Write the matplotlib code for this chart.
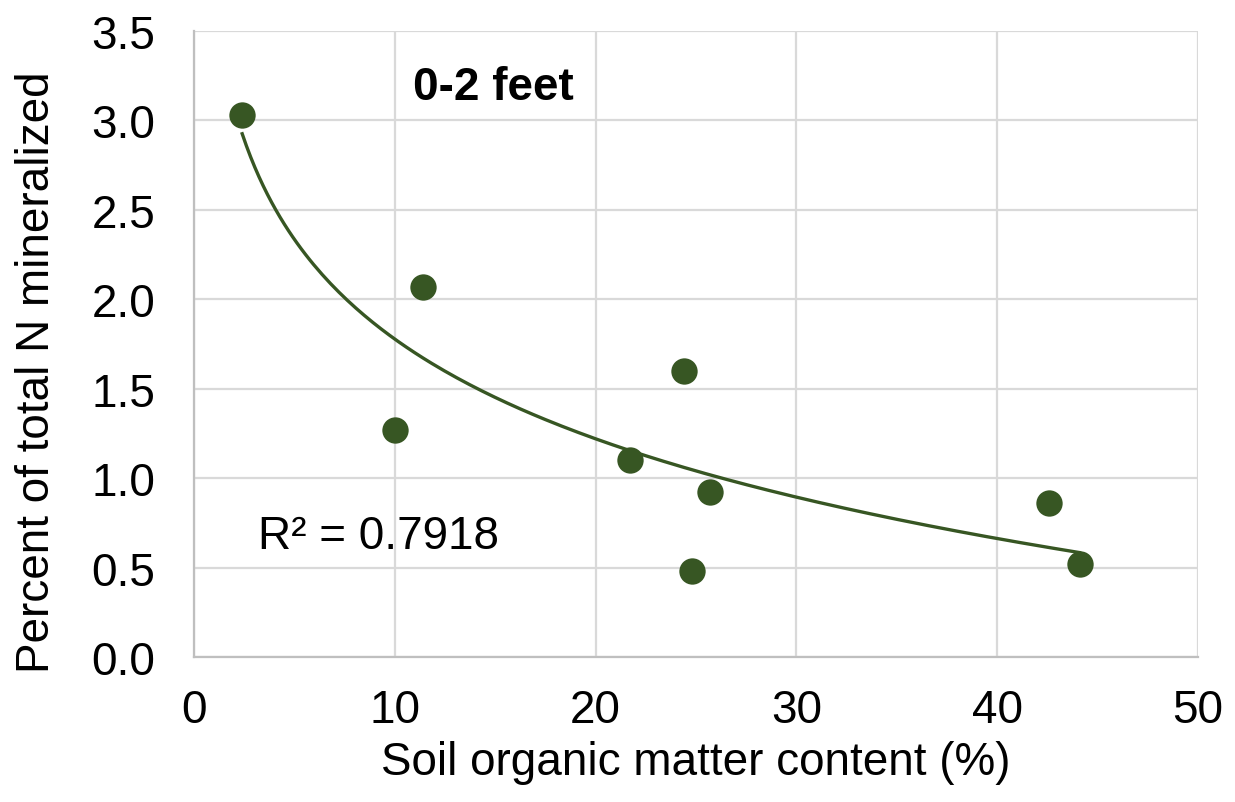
import numpy as np
import matplotlib.pyplot as plt

plt.rcParams['font.family'] = ['Liberation Sans', 'DejaVu Sans']

# soil organic matter (%) and percent of total N mineralized
som = [2.4, 10.0, 11.4, 21.7, 24.4, 24.8, 25.7, 42.6, 44.1]
n_min = [3.03, 1.27, 2.07, 1.10, 1.60, 0.48, 0.92, 0.86, 0.52]

green = '#375623'
grid_c = '#d9d9d9'

fig = plt.figure(figsize=(12.35, 8.03), dpi=100)
ax = fig.add_axes([194 / 1235, 1 - 658 / 803, (1198 - 194) / 1235, (658 - 32) / 803])

# logarithmic trend line
x = np.array(som)
y = np.array(n_min)
a, b = np.polyfit(np.log(x), y, 1)
xs = np.linspace(x.min(), x.max(), 200)
ax.plot(xs, a * np.log(xs) + b, color=green, lw=2.4, zorder=2)

ax.scatter(som, n_min, s=360, color=green, zorder=3, linewidths=0)

ax.set_xlim(0, 50)
ax.set_ylim(0, 3.5)
ax.set_xticks(range(0, 51, 10))
ax.set_yticks(np.arange(0, 3.51, 0.5))
ax.set_yticklabels([f'{v:.1f}' for v in np.arange(0, 3.51, 0.5)])
ax.grid(True, color=grid_c, lw=1.6)
ax.set_axisbelow(True)
for s in ax.spines.values():
    s.set_visible(False)
for side in ['left', 'bottom']:
    ax.spines[side].set_visible(True)
    ax.spines[side].set_color('#bfbfbf')
    ax.spines[side].set_linewidth(1.6)
ax.tick_params(length=0, labelsize=33)
ax.tick_params(axis='x', pad=22)
ax.tick_params(axis='y', pad=28)

ax.set_xlabel('Soil organic matter content (%)', fontsize=33, labelpad=6)
ax.set_ylabel('Percent of total N mineralized', fontsize=33)
ax.yaxis.set_label_coords(-0.134, 0.457)

ax.text(10.9, 3.12, '0-2 feet', fontsize=33, fontweight='bold')
ax.text(3.2, 0.61, 'R² = 0.7918', fontsize=33)

fig.savefig('out.png', dpi=100)
